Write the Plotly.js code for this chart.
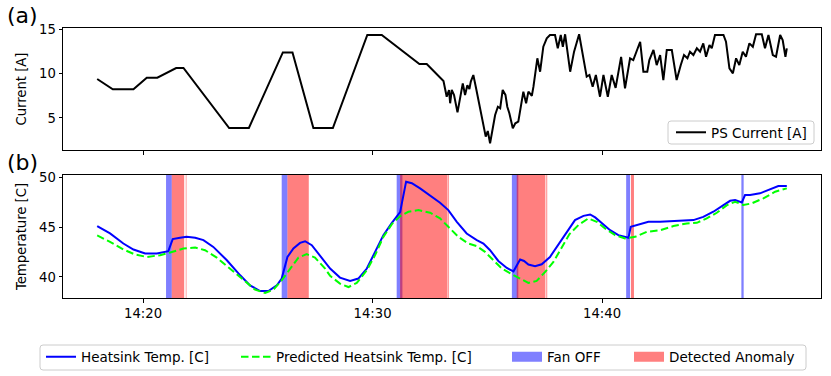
<!DOCTYPE html>
<html><head><meta charset="utf-8">
<script src="https://cdn.plot.ly/plotly-3.0.1.min.js"></script>
<style>html,body{margin:0;padding:0;background:#fff}#chart{width:831px;height:376px}</style>
</head><body><div id="chart"></div>
<script>
// times are minutes after 14:00
const curTime = [18.0, 18.68, 19.58, 20.16, 20.62, 21.44, 21.76, 23.75, 24.61, 26.09, 26.51, 27.42, 28.27, 29.77, 30.40, 32.04, 32.36, 33.09,
 33.23, 33.33, 33.38, 33.45, 33.55, 33.70, 33.93, 34.03, 34.13, 34.22, 34.28, 34.39, 34.51, 34.71, 34.93, 35.02, 35.12, 35.34, 35.46, 35.56, 35.67, 35.79, 35.87, 35.96, 36.11, 36.22, 36.35, 36.57, 36.69, 36.79, 36.94, 37.01, 37.18, 37.30, 37.44, 37.59, 37.73, 37.95, 38.07, 38.20, 38.29, 38.39, 38.61, 38.78, 38.90, 39.00, 39.33, 39.45, 39.59, 39.73, 39.91, 40.06, 40.25, 40.42, 40.59, 40.83, 41.00, 41.22, 41.36, 41.51, 41.66, 41.80, 41.97, 42.06, 42.24, 42.38, 42.53, 42.67, 42.82, 43.04, 43.25, 43.43, 43.57, 43.72, 43.83, 43.98, 44.13, 44.27, 44.41, 44.53, 44.68, 44.78, 44.92, 45.29, 45.40, 45.55, 45.70, 45.84, 45.98, 46.13, 46.27, 46.42, 46.57, 46.71, 46.96, 47.10, 47.25, 47.44, 47.58, 47.76, 47.87, 47.99, 48.05];
const curValue = [9.4, 8.23, 8.23, 9.55, 9.55, 10.64, 10.64, 3.87, 3.87, 12.4, 12.4, 3.87, 3.87, 14.36, 14.36, 11.09, 11.09, 9.17,
 7.4, 8.16, 6.66, 8.16, 7.6, 5.64, 8.9, 7.6, 8.7, 8.27, 9.1, 9.85, 8.35, 5.64, 2.9, 3.53, 2.15, 5.34, 6.27, 6.1, 8.16, 7.6, 6.27, 5.53, 3.84, 4.4, 4.58, 7.97, 6.66, 7.97, 7.51, 8.53, 11.73, 10.22, 13.04, 13.99, 14.36, 14.36, 12.86, 14.36, 13.04, 14.44, 10.22, 12.48, 13.42, 14.44, 9.66, 9.85, 8.53, 9.85, 7.4, 9.85, 7.4, 9.85, 8.4, 11.9, 8.35, 11.73, 11.54, 12.67, 13.6, 10.22, 10.22, 11.54, 12.67, 10.97, 12.1, 9.28, 12.67, 12.67, 9.28, 10.97, 12.1, 11.73, 12.48, 12.1, 12.86, 12.48, 13.42, 11.91, 13.23, 12.86, 14.36, 14.36, 13.6, 10.6, 10.04, 11.73, 10.97, 12.48, 11.91, 13.42, 13.04, 14.44, 14.44, 12.86, 14.36, 12.1, 11.91, 14.36, 13.79, 11.91, 12.86];

const tempTime = [18.0, 18.56, 19.14, 19.58, 20.09, 20.60, 21.10, 21.29, 21.61, 21.90, 22.27, 22.63, 23.06, 23.65, 24.23, 24.66, 25.10, 25.46, 25.83, 26.04, 26.29, 26.55, 26.84, 27.06, 27.35, 27.71, 28.15, 28.58, 29.02, 29.38, 29.75, 30.11, 30.47, 30.84, 31.12, 31.20, 31.46, 31.71, 32.07, 32.51, 32.94, 33.30, 33.67, 34.10, 34.54, 34.83, 35.12, 35.48, 35.85, 36.14, 36.28, 36.43, 36.60, 36.79, 37.08, 37.37, 37.73, 38.17, 38.58, 38.82, 39.19, 39.48, 39.70, 39.99, 40.35, 40.71, 41.15, 41.25, 41.51, 42.02, 42.53, 43.11, 43.69, 43.98, 44.41, 44.85, 45.29, 45.58, 45.80, 46.09, 46.23, 46.45, 46.88, 47.32, 47.68, 48.05];
const tempValue = [45.1, 44.36, 43.35, 42.75, 42.35, 42.35, 42.58, 43.79, 43.92, 44.02, 43.92, 43.69, 43.01, 41.67, 40.16, 39.15, 38.58, 38.58, 39.15, 39.83, 42.0, 42.85, 43.41, 43.58, 43.18, 42.1, 40.84, 39.93, 39.59, 39.83, 40.84, 42.51, 44.19, 45.43, 46.2, 46.5, 49.56, 49.4, 48.88, 48.12, 47.44, 46.71, 45.53, 44.36, 43.69, 43.35, 42.68, 41.6, 40.9, 40.56, 41.17, 41.74, 41.6, 41.24, 41.07, 41.27, 42.0, 43.5, 45.0, 45.7, 46.13, 46.27, 45.97, 45.37, 44.69, 44.19, 43.92, 45.03, 45.2, 45.53, 45.53, 45.6, 45.63, 45.7, 46.03, 46.54, 47.21, 47.64, 47.71, 47.48, 48.22, 48.22, 48.39, 48.82, 49.12, 49.12];

const predTime = [18.0, 18.56, 19.14, 19.65, 20.16, 20.74, 21.18, 21.76, 22.27, 22.70, 23.21, 23.79, 24.37, 24.88, 25.32, 25.68, 26.04, 26.41, 26.77, 27.13, 27.49, 27.93, 28.15, 28.58, 28.95, 29.31, 29.75, 30.11, 30.47, 30.84, 31.20, 31.56, 32.00, 32.51, 32.94, 33.30, 33.74, 34.17, 34.54, 34.90, 35.26, 35.63, 36.07, 36.43, 36.79, 37.15, 37.52, 37.88, 38.24, 38.58, 38.97, 39.40, 39.77, 40.13, 40.57, 41.00, 41.44, 41.95, 42.53, 43.11, 43.69, 44.13, 44.56, 45.00, 45.44, 45.80, 46.16, 46.52, 47.03, 47.54, 48.05];
const predValue = [44.16, 43.52, 42.75, 42.25, 42.0, 42.18, 42.45, 42.85, 42.95, 42.68, 41.94, 40.84, 39.66, 38.72, 38.38, 38.72, 39.66, 40.84, 41.94, 42.28, 41.94, 40.84, 40.1, 39.32, 38.98, 39.39, 40.67, 42.18, 44.02, 45.3, 46.1, 46.54, 46.71, 46.44, 45.87, 45.03, 44.02, 43.35, 43.08, 42.51, 41.67, 40.84, 40.26, 39.83, 39.39, 39.59, 40.5, 41.5, 43.0, 44.3, 45.2, 45.87, 45.53, 44.86, 44.19, 43.86, 44.02, 44.52, 44.69, 45.1, 45.37, 45.43, 45.87, 46.44, 47.21, 47.54, 47.21, 47.38, 47.89, 48.55, 48.89];

const fanStart = [21.00, 26.04, 31.05, 36.07, 41.05, 46.07];
const fanEnd   = [21.25, 26.29, 31.30, 36.35, 41.22, 46.17];
const anomStart = [21.25, 21.86, 26.29, 31.20, 33.28, 36.28, 37.57, 41.26];
const anomEnd   = [21.79, 21.89, 27.22, 33.26, 33.32, 37.53, 37.61, 41.39];

const xTickLabels = ['14:20', '14:30', '14:40'];
const curTicks = [5, 10, 15];
const tempTicks = [40, 45, 50];

// ---------- helpers ----------
const DAY = '2024-01-01 ';
function pad(n){ return String(n).padStart(2,'0'); }
function toDate(m){
  const ms = Math.round(m * 60000);
  const totalSec = ms / 1000;
  const h = 14 + Math.floor(totalSec / 3600);
  const mm = Math.floor((totalSec % 3600) / 60);
  const s = totalSec - Math.floor(totalSec / 60) * 60;
  return DAY + pad(h) + ':' + pad(mm) + ':' + s.toFixed(3).padStart(6, '0');
}
const xRange = [toDate(16.51), toDate(49.54)];
const yRange1 = [1.39, 15.15];
const yRange2 = [37.88, 50.23];

function spanPoly(starts, ends){
  const x = [], y = [];
  for (let i = 0; i < starts.length; i++){
    const a = toDate(starts[i]), b = toDate(ends[i]);
    x.push(a, b, b, a, a, null);
    y.push(yRange2[0], yRange2[0], yRange2[1], yRange2[1], yRange2[0], null);
  }
  return {x, y};
}

const FONT = 'DejaVu Sans, Verdana, sans-serif';
const L = 63, R = 821, T = 28, B = 298;
const pX = px => (px - L) / (R - L);
const pY = py => (B - py) / (B - T);
function roundRect(x0, y0, x1, y1, r){
  const a = pX(x0), b = pX(x1), c = pY(y1), d = pY(y0);
  const rx = r / (R - L), ry = r / (B - T);
  return `M${a+rx},${c} L${b-rx},${c} Q${b},${c} ${b},${c+ry} L${b},${d-ry} Q${b},${d} ${b-rx},${d} L${a+rx},${d} Q${a},${d} ${a},${d-ry} L${a},${c+ry} Q${a},${c} ${a+rx},${c} Z`;
}

const fanPoly = spanPoly(fanStart, fanEnd);
const anomPoly = spanPoly(anomStart, anomEnd);
const FAN_C = 'rgba(0,0,255,0.5)', ANOM_C = 'rgba(255,0,0,0.5)';

const traces = [
  {x: fanPoly.x, y: fanPoly.y, xaxis: 'x2', yaxis: 'y2', type: 'scatter', mode: 'lines',
   fill: 'toself', fillcolor: FAN_C, line: {width: 0, color: FAN_C},
   name: 'Fan OFF', showlegend: false, hoverinfo: 'skip'},
  {x: anomPoly.x, y: anomPoly.y, xaxis: 'x2', yaxis: 'y2', type: 'scatter', mode: 'lines',
   fill: 'toself', fillcolor: ANOM_C, line: {width: 0, color: ANOM_C},
   name: 'Detected Anomaly', showlegend: false, hoverinfo: 'skip'},
  {x: curTime.map(toDate), y: curValue, xaxis: 'x', yaxis: 'y', type: 'scatter', mode: 'lines',
   line: {color: '#000000', width: 2}, name: 'PS Current [A]', legend: 'legend2'},
  {x: tempTime.map(toDate), y: tempValue, xaxis: 'x2', yaxis: 'y2', type: 'scatter', mode: 'lines',
   line: {color: '#0000ff', width: 2}, name: 'Heatsink Temp. [C]', legend: 'legend'},
  {x: predTime.map(toDate), y: predValue, xaxis: 'x2', yaxis: 'y2', type: 'scatter', mode: 'lines',
   line: {color: '#00ff00', width: 2, dash: '7.5px,3.5px'}, name: 'Predicted Heatsink Temp. [C]', legend: 'legend3'},
  // legend keys for the shaded spans (patch-like swatches)
  {x: [null], y: [null], xaxis: 'x2', yaxis: 'y2', type: 'scatter', mode: 'lines',
   line: {color: FAN_C, width: 10}, name: 'Fan OFF', legend: 'legend4', showlegend: true, hoverinfo: 'skip'},
  {x: [null], y: [null], xaxis: 'x2', yaxis: 'y2', type: 'scatter', mode: 'lines',
   line: {color: ANOM_C, width: 10}, name: 'Detected Anomaly', legend: 'legend5', showlegend: true, hoverinfo: 'skip'}
];

const axisCommon = {
  showline: true, mirror: true, linecolor: '#000', linewidth: 1,
  ticks: 'outside', ticklen: 3.5, tickwidth: 1, tickcolor: '#000',
  showgrid: false, zeroline: false, automargin: false,
  tickfont: {family: FONT, size: 13.2, color: '#000'}
};
const tickVals = xTickLabels.map(t => DAY + t + ':00');

function legendAt(iconX, cy){
  return {x: (iconX - 3) / 831, y: 1 - cy / 376, xref: 'container', yref: 'container',
          xanchor: 'left', yanchor: 'middle', bgcolor: 'rgba(0,0,0,0)', borderwidth: 0,
          orientation: 'h', font: {family: FONT, size: 13.5, color: '#000'}};
}

const layout = {
  width: 831, height: 376,
  margin: {l: L, r: 831 - R, t: T, b: 376 - B, autoexpand: false},
  paper_bgcolor: '#fff', plot_bgcolor: '#fff',
  font: {family: FONT, size: 13, color: '#000'},
  xaxis: Object.assign({}, axisCommon, {domain: [0, 1], anchor: 'y', type: 'date', range: xRange,
    tickvals: tickVals, ticktext: xTickLabels, showticklabels: false}),
  xaxis2: Object.assign({}, axisCommon, {domain: [0, 1], anchor: 'y2', type: 'date', range: xRange,
    tickvals: tickVals, ticktext: xTickLabels, showticklabels: true}),
  yaxis: Object.assign({}, axisCommon, {domain: [(B - 150) / (B - T), 1], anchor: 'x', range: yRange1,
    tickvals: curTicks, title: {text: 'Current [A]', font: {family: FONT, size: 13.2, color: '#000'}, standoff: 9}}),
  yaxis2: Object.assign({}, axisCommon, {domain: [0, (B - 175) / (B - T)], anchor: 'x2', range: yRange2,
    tickvals: tempTicks, title: {text: 'Temperature [C]', font: {family: FONT, size: 13.2, color: '#000'}, standoff: 9}}),
  showlegend: true,
  legend: legendAt(44, 357),
  legend3: legendAt(239, 357),
  legend4: legendAt(510, 357),
  legend5: legendAt(632, 357),
  legend2: legendAt(674, 132.5),
  shapes: [
    {type: 'path', xref: 'paper', yref: 'paper', path: roundRect(40, 345, 806, 370, 3),
     line: {color: '#cccccc', width: 1}, fillcolor: 'rgba(255,255,255,0.8)', layer: 'above'},
    {type: 'path', xref: 'paper', yref: 'paper', path: roundRect(668, 121, 814, 144, 3),
     line: {color: '#cccccc', width: 1}, fillcolor: 'rgba(255,255,255,0.8)', layer: 'above'}
  ],
  annotations: [
    {text: '(a)', xref: 'paper', yref: 'paper', x: pX(22), y: pY(15), showarrow: false,
     xanchor: 'center', yanchor: 'middle', font: {family: FONT, size: 22, color: '#000'}},
    {text: '(b)', xref: 'paper', yref: 'paper', x: pX(22), y: pY(162), showarrow: false,
     xanchor: 'center', yanchor: 'middle', font: {family: FONT, size: 22, color: '#000'}}
  ]
};

Plotly.newPlot('chart', traces, layout, {staticPlot: true, displayModeBar: false});
</script>
</body></html>
